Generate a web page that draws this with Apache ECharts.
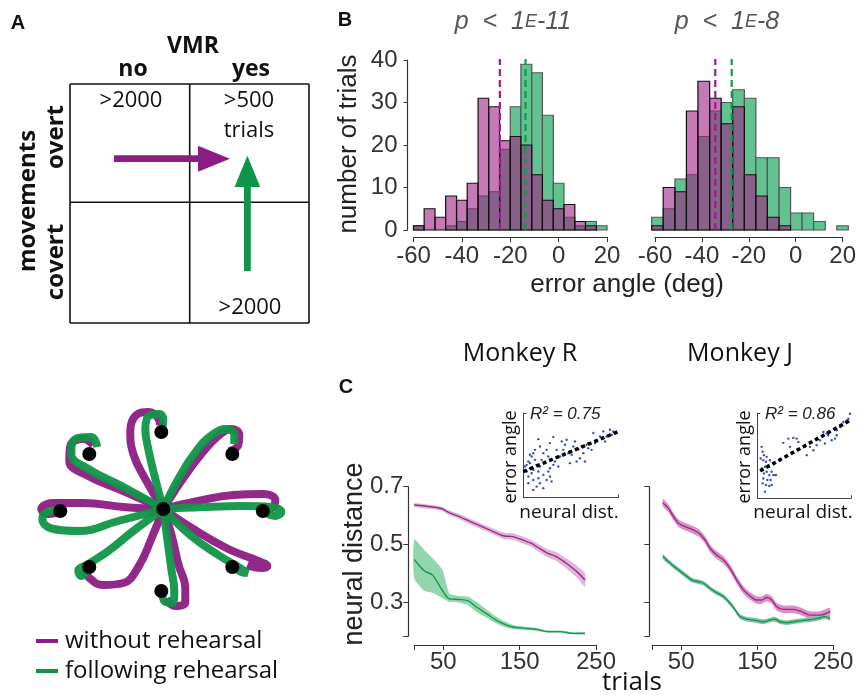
<!DOCTYPE html>
<html><head><meta charset="utf-8">
<script src="https://cdn.jsdelivr.net/npm/echarts@6/dist/echarts.min.js"></script>
<style>html,body{margin:0;padding:0;background:#fff}#c{width:859px;height:695px}</style>
</head><body><div id="c"></div><script>
// ---------- DATA ----------
// Panel B histograms (counts per bin)
const leftBinEdges = [-60,-55.6,-51.1,-46.7,-42.2,-37.8,-33.3,-28.9,-24.4,-20,-15.6,-11.1,-6.7,-2.2,2.2,6.7,11.1,15.6,20];
const leftWithout  = [1,5,3,8,7,11,31,29,21,22,20,13,7,5,6,2,1,0];
const leftFollowing= [1,0,0,1,2,5,8,9,19,29,39,37,27,11,3,1,2,1];
const rightBinEdges = [-61.4,-56.5,-51.5,-46.6,-41.7,-36.7,-31.8,-26.9,-21.9,-17,-12.1,-7.1,-2.2,2.7,7.6,12.6,17.5,22.4];
const rightWithout  = [1,10,9,28,35,31,25,29,13,8,3,1,0,0,0,0,0];
const rightFollowing= [3,5,12,13,22,28,30,33,31,17,17,10,4,4,2,0,1];
const meanLeft  = {without:-24.3, following:-13.7};
const meanRight = {without:-34.3, following:-27.3};
const countTicks = [0,10,20,30,40];

// Panel C: neural distance vs trials
const rMagX = [12,47,58,71,88.6,110.5,130,141,152,165,176,187,198,211,225,235.5];
const rMagY = [0.637,0.625,0.610,0.597,0.576,0.551,0.530,0.528,0.518,0.505,0.487,0.470,0.459,0.436,0.407,0.378];
const rMagHalf = [0.006,0.007,0.008,0.009,0.010,0.010,0.011,0.011,0.012,0.012,0.013,0.014,0.015,0.017,0.020,0.023];
const rGrnX = [12,25,36,49,58,71,82,93,106,119,132.5,143,159,172,187,203,220,235.5];
const rGrnY = [0.449,0.410,0.395,0.341,0.313,0.311,0.307,0.286,0.263,0.240,0.223,0.215,0.211,0.208,0.200,0.200,0.194,0.194];
const rGrnLo = [0.384,0.341,0.334,0.315,0.303,0.300,0.292,0.269,0.249,0.229,0.214,0.208,0.205,0.203,0.196,0.196,0.190,0.190];
const rGrnHi = [0.518,0.482,0.453,0.413,0.332,0.323,0.321,0.303,0.277,0.252,0.232,0.222,0.217,0.213,0.204,0.204,0.198,0.198];
const jMagX = [26,33.4,39.9,46.5,55.3,64,72.8,81.5,88.1,96.8,105.6,114.3,123.1,131.8,140.6,149.3,155.9,162.5,169,175.6,184.4,197.5,208.4,219.4,232.5,245.6];
const jMagY = [0.645,0.625,0.597,0.574,0.562,0.553,0.541,0.516,0.487,0.464,0.447,0.418,0.378,0.344,0.323,0.309,0.309,0.318,0.309,0.286,0.277,0.277,0.269,0.257,0.257,0.269];
const jMagHalf = 0.013;
const jGrnX = [26,33.4,39.9,46.5,55.3,64,72.8,79.3,88.1,96.8,105.6,114.3,120.9,127.5,136.2,149.3,158.1,166.8,173.4,180,188.7,201.8,215,228.1,239.1,245.6];
const jGrnY = [0.459,0.441,0.426,0.413,0.395,0.378,0.372,0.367,0.349,0.334,0.321,0.298,0.275,0.252,0.243,0.238,0.234,0.240,0.243,0.234,0.231,0.236,0.240,0.245,0.252,0.247];
const jGrnHalf = 0.008;
const trialTicks = [50,150,250];
const distTicks = [0.3,0.5,0.7];

// Insets: error angle vs neural distance (arbitrary units 0-100)
const insetR = [[15.8,69],[31.6,71.4],[28.1,64.3],[40.4,66.3],[43.9,62.3],[35.1,56.3],[42.1,56.3],[47.4,52.4],[52.6,60.3],[57.9,57.1],[50.9,50.4],[63.2,52.4],[68.4,64.3],[73.7,76.2],[75.4,64.3],[80.7,72.2],[84.2,78.2],[87.7,72.2],[91.2,80.2],[94.7,78.2],[98.2,76.2],[64.9,42.5],[59.6,46.4],[71.9,56.3],[66.7,62.3],[56.1,42.5],[49.1,40.5],[38.6,48.4],[24.6,56.3],[21.1,52.4],[12.3,56.3],[8.8,48.4],[5.3,42.5],[3.5,38.5],[7,34.5],[10.5,32.5],[14,38.5],[17.5,36.5],[8.8,28.6],[5.3,24.6],[10.5,20.6],[15.8,22.6],[21.1,26.6],[26.3,30.6],[28.1,24.6],[24.6,20.6],[14,12.7],[10.5,8.7],[17.5,16.7],[3.5,30.6],[1.8,36.5],[7,40.5],[12.3,44.4],[19.3,44.4],[22.8,40.5],[31.6,38.5],[28.1,34.5],[33.3,42.5],[36.8,36.5],[5.3,16.7],[21.1,10.7],[29.8,18.7],[15.8,30.6],[7,50.4],[26.3,48.4],[45.6,68.3],[54.4,66.3],[61.4,60.3],[77.2,66.3],[93,74.2],[86,66.3],[68.4,58.3],[17.5,60.3],[10.5,52.4]];
const insetRFit = [[0,30.5],[100,78]];
const insetJ = [[4.6,60.3],[5.7,54.5],[7.1,50.6],[6.4,44.7],[9.3,42.8],[11.7,38.9],[13.5,44.7],[8.2,37],[4.6,35],[10,31.1],[7.1,29.2],[12.8,27.2],[15.3,31.1],[17.1,27.2],[6.4,23.3],[10.7,21.4],[14.2,21.4],[5.7,17.5],[9.3,15.6],[12.8,14.4],[8.2,7.8],[15.3,15.6],[18.9,27.2],[27.8,65],[33.1,70],[38.4,70.8],[42,70],[43.8,66.1],[50.9,60.3],[52.7,50.6],[56.2,60.3],[63.3,62.3],[66.9,68.1],[70.5,77.8],[74,75.9],[75.8,73.9],[79.4,68.1],[82.9,70],[84.7,79.8],[88.3,83.7],[91.8,89.5],[95.4,91.4],[97.2,93.4],[98.9,99.2],[84.7,73.9],[72.2,64.2],[59.8,56.4],[34.9,60.3],[24.2,44.7],[19.9,27.2],[3.6,46.7],[10,48.6]];
const insetJFit = [[3,32],[100,92]];

// Hand trajectories (relative to centre) and targets
const targets = [[0,0],[-2,77],[69,55],[99.5,-2],[69,-58],[-2,-82],[-74,-58],[-103,-2],[-74,55]];
const trajWithout = [
 [[0,0],[-18,30],[-30,55],[-33,78],[-27,94],[-15,97],[-6,92],[-3,84]],
 [[0,0],[18,28],[38,55],[55,73],[68,80],[76,74],[75,64],[66,58]],
 [[0,0],[35,8],[70,14],[100,15],[112,9],[110,2],[102,-1]],
 [[0,0],[30,-20],[65,-40],[95,-52],[104,-57],[98,-59],[84,-56]],
 [[0,0],[8,-25],[15,-55],[22,-80],[22,-93],[12,-97],[3,-90]],
 [[0,0],[-12,-30],[-25,-58],[-40,-74],[-60,-76],[-75,-68],[-79,-60]],
 [[0,0],[-40,2],[-80,6],[-110,6],[-122,0],[-115,-5],[-104,-3]],
 [[0,0],[-40,18],[-75,33],[-94,48],[-93,63],[-80,70],[-70,64]]
];
const trajFollowing = [
 [[0,0],[-8,30],[-15,60],[-18,80],[-13,94],[-4,95],[0,89],[-1,81]],
 [[0,0],[15,30],[33,58],[50,75],[63,80],[71,74],[71,65]],
 [[0,0],[40,2],[80,3],[108,2],[118,-3],[112,-7],[101,-3]],
 [[0,0],[28,-27],[55,-46],[75,-58],[84,-64],[78,-63],[70,-58]],
 [[0,0],[4,-30],[8,-60],[11,-82],[9,-94],[2,-93],[-1,-85]],
 [[0,0],[-30,-22],[-55,-42],[-75,-55],[-85,-62],[-82,-67],[-75,-60]],
 [[0,0],[-45,-12],[-85,-22],[-110,-20],[-121,-10],[-116,-3],[-104,-1]],
 [[0,0],[-40,22],[-75,40],[-92,55],[-88,70],[-72,72],[-66,62]]
];

// ---------- STYLE ----------
const HEL = 'Liberation Sans', MYR = 'Open Sans';
const PURPLE = '#8c1d84', GREEN = '#109548';
const MAG_FILL = 'rgba(158,33,132,0.6)', GRN_FILL = '#62c292';

function histData(edges, counts){ return counts.map((c,i)=>[edges[i], edges[i+1], c]).filter(d=>d[2]>0); }
function histSeries(edges, counts, idx, fill, stroke, z){
  return {type:'custom', xAxisIndex:idx, yAxisIndex:idx, z, silent:true, clip:false,
    encode:{x:[0,1], y:2}, data: histData(edges, counts),
    renderItem:(params, api)=>{
      const p0 = api.coord([api.value(0), 0]), p1 = api.coord([api.value(1), api.value(2)]);
      return {type:'rect', shape:{x:p0[0], y:p1[1], width:p1[0]-p0[0], height:p0[1]-p1[1]},
        style:{fill, stroke, lineWidth:1.2}};
    }};
}
function meanLine(x, idx, color){
  return {type:'line', xAxisIndex:idx, yAxisIndex:idx, z:10, symbol:'none', silent:true,
    data:[[x,0],[x,41.5]], lineStyle:{color, width:2.2, type:[7,4]}};
}
function band(xs, lo, hi, idx, fill){
  return {type:'custom', xAxisIndex:idx, yAxisIndex:idx, z:2, silent:true,
    data: xs.map((x,i)=>[x, lo[i], hi[i]]),
    renderItem:(params, api)=>{
      if(params.dataIndex !== 0) return null;
      const pts = [];
      for(let i=0;i<xs.length;i++) pts.push(api.coord([xs[i], hi[i]]));
      for(let i=xs.length-1;i>=0;i--) pts.push(api.coord([xs[i], lo[i]]));
      return {type:'polygon', shape:{points:pts, smooth:0.2}, style:{fill}};
    }};
}
function meanCurve(xs, ys, idx, color){
  return {type:'line', xAxisIndex:idx, yAxisIndex:idx, z:3, symbol:'none', silent:true, smooth:0.3,
    data: xs.map((x,i)=>[x, ys[i]]), lineStyle:{color, width:1.4}};
}
const axisLineStyle = {onZero:false, lineStyle:{color:'#333', width:1.2}};
function histX(grid){
  return {type:'value', gridIndex:grid, min:-60, max:20, interval:20, offset:7,
    axisLine:axisLineStyle, axisTick:{length:5, lineStyle:{color:'#333'}},
    axisLabel:{fontFamily:HEL, fontSize:24, color:'#333', margin:7}, splitLine:{show:false}};
}
function cX(grid){
  return {type:'value', gridIndex:grid, min:12, max:250, offset:9,
    axisLine:axisLineStyle, axisTick:{length:5, lineStyle:{color:'#333'}, customValues:[12].concat(trialTicks)},
    axisLabel:{fontFamily:HEL, fontSize:24, color:'#333', margin:5, customValues:trialTicks}, splitLine:{show:false}};
}
function cY(grid, labels, off){
  return {type:'value', gridIndex:grid, min:0.185, max:0.7, offset:off,
    axisLine:Object.assign({show:true}, axisLineStyle), axisTick:{show:true, length:5, lineStyle:{color:'#333'}, customValues:[0.185].concat(distTicks)},
    axisLabel:{show:labels, fontFamily:HEL, fontSize:24, color:'#333', margin:5, customValues:distTicks, formatter:v=>v.toFixed(1)},
    splitLine:{show:false}};
}
function insetAxis(grid){
  return {type:'value', gridIndex:grid, min:0, max:100, axisLine:{show:true, onZero:false, lineStyle:{color:'#444', width:1}},
    axisTick:{show:true, inside:true, length:3, lineStyle:{color:'#444'}, customValues:[100]},
    axisLabel:{show:false}, splitLine:{show:false}};
}
function hiddenAxis(grid, min, max){
  return {type:'value', gridIndex:grid, min, max, show:false, axisLine:{onZero:false}, splitLine:{show:false}};
}

// ---------- GRAPHIC (panel A diagram, titles, labels) ----------
function txt(text, x, y, size, opts, rot){
  const st = Object.assign({text, x:0, y:0, fontFamily:MYR, fontSize:size, fill:'#111',
    align:'center', verticalAlign:'middle', textAlign:'center', textVerticalAlign:'middle'}, opts||{});
  return {type:'text', x, y, rotation:rot||0, style:st, silent:true};
}
function lineEl(x1,y1,x2,y2){
  return {type:'line', shape:{x1,y1,x2,y2}, style:{stroke:'#111', lineWidth:1.6}, silent:true};
}
const pRich = {a:{fontFamily:HEL, fontStyle:'italic', fontSize:25, fill:'#555', color:'#555'},
               b:{fontFamily:HEL, fontStyle:'italic', fontSize:18, fill:'#555', color:'#555'}};
const graphics = [
  txt('A', 18, 23, 20, {fontFamily:HEL, fontWeight:'bold'}),
  txt('B', 345, 20, 20, {fontFamily:HEL, fontWeight:'bold'}),
  txt('C', 346, 387, 20, {fontFamily:HEL, fontWeight:'bold'}),
  // panel A table
  lineEl(70,84,309,84), lineEl(70,323,309,323), lineEl(70,84,70,323), lineEl(309,84,309,323),
  lineEl(189.7,84,189.7,323), lineEl(70,202.3,309,202.3),
  txt('VMR', 193, 46, 23, {fontWeight:'bold'}),
  txt('no', 133, 69, 23, {fontWeight:'bold'}),
  txt('yes', 251, 69, 23, {fontWeight:'bold'}),
  txt('>2000', 131, 101, 22),
  txt('>500', 249, 101, 22),
  txt('trials', 249, 131, 22),
  txt('>2000', 250, 308, 22),
  txt('overt', 56, 137, 24, {fontWeight:'bold'}, Math.PI/2),
  txt('covert', 56, 262, 24, {fontWeight:'bold'}, Math.PI/2),
  txt('movements', 28, 201, 24, {fontWeight:'bold'}, Math.PI/2),
  {type:'rect', shape:{x:114, y:155.3, width:86, height:6.8}, style:{fill:PURPLE}, silent:true},
  {type:'polygon', shape:{points:[[198,145.7],[230,158.7],[198,171.7]]}, style:{fill:PURPLE}, silent:true},
  {type:'rect', shape:{x:244, y:185, width:6.8, height:86}, style:{fill:GREEN}, silent:true},
  {type:'polygon', shape:{points:[[234.5,187],[247.4,155.7],[260.3,187]]}, style:{fill:GREEN}, silent:true},
  // panel B texts
  {type:'text', x:513, y:22, silent:true, style:{text:'{a|p  <  1}{b|E}{a|-11}', align:'center', verticalAlign:'middle', rich:pRich}},
  {type:'text', x:727, y:22, silent:true, style:{text:'{a|p  <  1}{b|E}{a|-8}', align:'center', verticalAlign:'middle', rich:pRich}},
  txt('number of trials', 349, 144, 26, {fontFamily:HEL, fill:'#222'}, Math.PI/2),
  txt('error angle (deg)', 627, 285, 26, {fontFamily:HEL, fill:'#222'}),
  // panel C texts
  txt('Monkey R', 520, 354, 25),
  txt('Monkey J', 740, 354, 25),
  txt('neural distance', 355, 554, 27, {fontFamily:HEL, fill:'#222'}, Math.PI/2),
  txt('trials', 632, 683, 26),
  txt('error angle', 511, 457, 18, {}, Math.PI/2),
  txt('neural dist.', 569, 513, 19),
  txt('error angle', 745, 457, 18, {}, Math.PI/2),
  txt('neural dist.', 803, 513, 19),
  txt('R² = 0.75', 530, 414, 17, {fontFamily:HEL, fontStyle:'italic', fill:'#222', align:'left', textAlign:'left'}),
  txt('R² = 0.86', 765, 414, 17, {fontFamily:HEL, fontStyle:'italic', fill:'#222', align:'left', textAlign:'left'})
];

// ---------- SERIES ----------
const series = [];
series.push(histSeries(leftBinEdges, leftFollowing, 0, GRN_FILL, '#555', 3));
series.push(histSeries(leftBinEdges, leftWithout, 0, MAG_FILL, '#111', 4));
series.push(histSeries(rightBinEdges, rightFollowing, 1, GRN_FILL, '#555', 3));
series.push(histSeries(rightBinEdges, rightWithout, 1, MAG_FILL, '#111', 4));
series.push(meanLine(meanLeft.without, 0, '#a1188f'));
series.push(meanLine(meanLeft.following, 0, '#0f9a4c'));
series.push(meanLine(meanRight.without, 1, '#a1188f'));
series.push(meanLine(meanRight.following, 1, '#0f9a4c'));

series.push(band(rMagX, rMagY.map((y,i)=>y-rMagHalf[i]), rMagY.map((y,i)=>y+rMagHalf[i]), 2, '#deb7d8'));
series.push(band(rGrnX, rGrnLo, rGrnHi, 2, '#93d5ae'));
series.push(meanCurve(rMagX, rMagY, 2, '#9c2a8c'));
series.push(meanCurve(rGrnX, rGrnY, 2, '#16994b'));
series.push(band(jMagX, jMagY.map(y=>y-jMagHalf), jMagY.map(y=>y+jMagHalf), 3, '#dc8fc2'));
series.push(band(jGrnX, jGrnY.map(y=>y-jGrnHalf), jGrnY.map(y=>y+jGrnHalf), 3, '#7cc2a6'));
series.push(meanCurve(jMagX, jMagY, 3, '#9c2a8c'));
series.push(meanCurve(jGrnX, jGrnY, 3, '#16994b'));

series.push({type:'scatter', xAxisIndex:4, yAxisIndex:4, data:insetR, symbolSize:2.4, itemStyle:{color:'#3a50c0', opacity:1}, silent:true});
series.push({type:'line', xAxisIndex:4, yAxisIndex:4, data:insetRFit, symbol:'none', silent:true, z:5, lineStyle:{color:'#000', width:3.5, type:[4,3]}});
series.push({type:'scatter', xAxisIndex:5, yAxisIndex:5, data:insetJ, symbolSize:2.4, itemStyle:{color:'#3a50c0', opacity:1}, silent:true});
series.push({type:'line', xAxisIndex:5, yAxisIndex:5, data:insetJFit, symbol:'none', silent:true, z:5, lineStyle:{color:'#000', width:3.5, type:[4,3]}});

trajWithout.forEach(p=>series.push({type:'line', name:'without rehearsal', xAxisIndex:6, yAxisIndex:6, data:p, smooth:0.45,
  symbol:'none', silent:true, z:2, color:PURPLE, lineStyle:{color:PURPLE, width:8, opacity:0.95}}));
trajFollowing.forEach(p=>series.push({type:'line', name:'following rehearsal', xAxisIndex:6, yAxisIndex:6, data:p, smooth:0.45,
  symbol:'none', silent:true, z:3, color:GREEN, lineStyle:{color:GREEN, width:8, opacity:0.95}}));
series.push({type:'scatter', xAxisIndex:6, yAxisIndex:6, data:targets, symbolSize:14, z:5, silent:true, itemStyle:{color:'#000', opacity:1}});

const option = {
  animation:false,
  backgroundColor:'#fff',
  grid:[
    {left:413.5, top:60, width:193.5, height:170},
    {left:655, top:60, width:190, height:170},
    {left:414.3, top:486.7, width:181.7, height:149.3},
    {left:652.3, top:486.7, width:181, height:149.3},
    {left:523.3, top:413, width:95, height:84.3},
    {left:757.3, top:413, width:93.7, height:85.3},
    {left:38.3, top:399, width:250, height:220}
  ],
  xAxis:[histX(0), histX(1), cX(2), cX(3), insetAxis(4), insetAxis(5), hiddenAxis(6,-125,125)],
  yAxis:[
    {type:'value', gridIndex:0, min:0, max:40, interval:10, offset:6,
      axisLine:Object.assign({show:true}, axisLineStyle), axisTick:{show:true, length:4, lineStyle:{color:'#333'}},
      axisLabel:{fontFamily:HEL, fontSize:24, color:'#333', margin:10}, splitLine:{show:false}},
    hiddenAxis(1,0,40),
    cY(2, true, 6), cY(3, false, 3),
    insetAxis(4), insetAxis(5), hiddenAxis(6,-110,110)
  ],
  legend:{data:[{name:'without rehearsal', icon:'rect'},{name:'following rehearsal', icon:'rect'}],
    orient:'vertical', left:31, top:624, itemWidth:22, itemHeight:4, itemGap:6, selectedMode:false,
    textStyle:{fontFamily:MYR, fontSize:24, color:'#111', padding:[0,0,0,2]}},
  graphic:graphics,
  series
};
const chart = echarts.init(document.getElementById('c'), null, {renderer:'canvas'});
chart.setOption(option);
</script></body></html>
